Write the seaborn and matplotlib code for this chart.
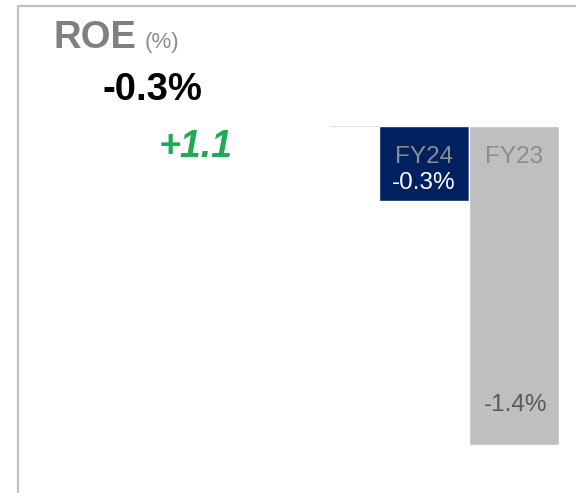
import matplotlib
matplotlib.use("Agg")
import matplotlib.pyplot as plt
import seaborn as sns
import pandas as pd
from matplotlib.lines import Line2D

# ---- data ----
categories = ["FY24", "FY23"]
values = [-0.33, -1.40]
value_labels = ["-0.3%", "-1.4%"]
title = "ROE"
unit = "(%)"
headline = "-0.3%"
delta = "+1.1"

bar_colors = ["#002060", "#bfbfbf"]

sns.set_theme(style="white")
plt.rcParams["font.family"] = ["Liberation Sans", "DejaVu Sans"]

W, H = 576, 493
fig = plt.figure(figsize=(W / 100, H / 100), dpi=100)

def fx(px):
    return px / W

def fy(py):
    return 1 - py / H

# axes for bars: spans x 330..560 px, y 126..445 px
ax_l, ax_r, ax_t, ax_b = 330, 560, 126, 445
ax = fig.add_axes([fx(ax_l), fy(ax_b), (ax_r - ax_l) / W, (ax_b - ax_t) / H])
df = pd.DataFrame({"cat": categories, "val": values})
sns.barplot(data=df, x="cat", y="val", hue="cat", palette=bar_colors,
            width=1.0, legend=False, ax=ax, saturation=1)
unit_px = 90
ax.set_xlim(-0.5 - (379 - ax_l) / unit_px, 1.5 + (ax_r - 559) / unit_px)
ax.set_ylim(min(values), 0)
ax.axhline(0, color="#d9d9d9", lw=1.2, zorder=0.5)
for s in ax.spines.values():
    s.set_visible(False)
ax.set_xticks([])
ax.set_yticks([])
ax.set_xlabel("")
ax.set_ylabel("")
ax.patch.set_alpha(0)

# labels
ax.annotate(categories[0], xy=(0, 0), xytext=(0, -22), textcoords="offset points",
            ha="center", va="center", fontsize=17.5, color="#8c8c8c")
ax.annotate(value_labels[0], xy=(0, 0), xytext=(0, -41), textcoords="offset points",
            ha="center", va="center", fontsize=17.5, color="white")
ax.annotate(categories[1], xy=(1, 0), xytext=(0, -22), textcoords="offset points",
            ha="center", va="center", fontsize=17.5, color="#8c8c8c")
ax.annotate(value_labels[1], xy=(1, values[1]), xytext=(1, 29), textcoords="offset points",
            ha="center", va="center", fontsize=17.5, color="#595959")

# header texts
fig.text(fx(53), fy(48), title, fontsize=27.5, fontweight="bold", color="#808080",
         ha="left", va="baseline")
fig.text(fx(145), fy(48), unit, fontsize=16, color="#8c8c8c",
         ha="left", va="baseline")
fig.text(fx(102), fy(100), headline, fontsize=27.5, fontweight="bold", color="black",
         ha="left", va="baseline")
fig.text(fx(159), fy(157), delta, fontsize=27, fontweight="bold", style="italic",
         color="#1faa55", ha="left", va="baseline")

# frame lines (top and left)
fig.add_artist(Line2D([fx(18), fx(576)], [fy(6), fy(6)], color="#c0c0c0", lw=1.6))
fig.add_artist(Line2D([fx(18), fx(18)], [fy(6), fy(493)], color="#c0c0c0", lw=1.6))

fig.savefig("out.png", dpi=100)
